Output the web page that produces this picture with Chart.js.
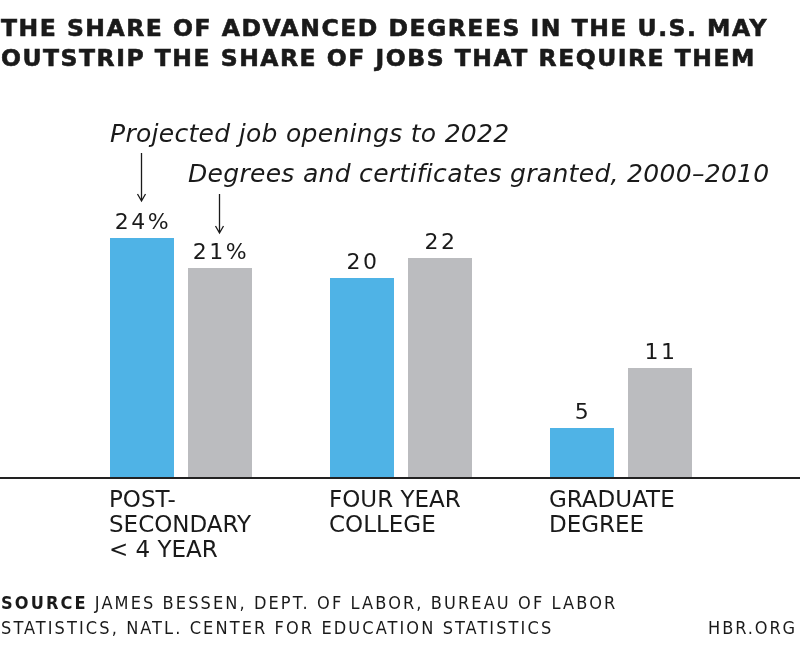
<!DOCTYPE html>
<html>
<head>
<meta charset="utf-8">
<script src="https://cdn.jsdelivr.net/npm/chart.js@4"></script>
<style>
  html, body { margin: 0; padding: 0; background: #fff; }
  #wrap { position: relative; width: 800px; height: 650px; overflow: hidden; }
  #chart { position: absolute; left: 0; top: 0; }
  .title {
    position: absolute; left: 1px; top: 13px; margin: 0;
    font: bold 23.5px "DejaVu Sans", sans-serif; letter-spacing: 1.5px;
    -webkit-text-stroke: 0.6px #1a1a1a;
    line-height: 30px; color: #1a1a1a; white-space: nowrap;
  }
  .source {
    position: absolute; left: 1px; top: 590px; margin: 0;
    font: 18px "DejaVu Sans Condensed", "DejaVu Sans", sans-serif;
    letter-spacing: 2.1px;
    line-height: 25px; color: #1a1a1a; white-space: nowrap;
  }
  .source b { font-weight: bold; }
  .hbr {
    position: absolute; right: 3px; top: 615px;
    font: 18px "DejaVu Sans Condensed", "DejaVu Sans", sans-serif;
    letter-spacing: 1.9px;
    line-height: 25px; color: #1a1a1a;
  }
</style>
</head>
<body>
<div id="wrap">
  <canvas id="chart" width="800" height="650"></canvas>
  <div class="title">THE SHARE OF ADVANCED DEGREES IN THE U.S. MAY<br>OUTSTRIP THE SHARE OF JOBS THAT REQUIRE THEM</div>
  <div class="source"><b>SOURCE</b> JAMES BESSEN, DEPT. OF LABOR, BUREAU OF LABOR<br>STATISTICS, NATL. CENTER FOR EDUCATION STATISTICS</div>
  <div class="hbr">HBR.ORG</div>
</div>
<script>
const categories = [["POST-", "SECONDARY", "< 4 YEAR"], ["FOUR YEAR", "COLLEGE"], ["GRADUATE", "DEGREE"]];
const seriesNames = ["Projected job openings to 2022", "Degrees and certificates granted, 2000\u20132010"];
const jobOpenings = [24, 20, 5];
const degreesGranted = [21, 22, 11];

const BLUE = "#4fb3e6";
const GRAY = "#bbbcbf";
const INK = "#1a1a1a";

// labels, arrows, baseline, category names – all placed from the chart's own scales
const decorations = {
  id: "decorations",
  afterDatasetsDraw(chart) {
    const ctx = chart.ctx;
    const y = chart.scales.y;
    const zeroY = y.getPixelForValue(0);
    const m0 = chart.getDatasetMeta(0), m1 = chart.getDatasetMeta(1);
    ctx.save();

    // baseline across the full width
    ctx.strokeStyle = "#222";
    ctx.lineWidth = 2;
    ctx.beginPath();
    ctx.moveTo(0, zeroY);
    ctx.lineTo(chart.width, zeroY);
    ctx.stroke();

    // value labels
    ctx.fillStyle = INK;
    ctx.font = '22px "DejaVu Sans", sans-serif';
    ctx.letterSpacing = "2.5px";
    ctx.textAlign = "center";
    ctx.textBaseline = "alphabetic";
    [m0, m1].forEach((meta, d) => {
      const vals = d === 0 ? jobOpenings : degreesGranted;
      meta.data.forEach((bar, i) => {
        const txt = vals[i] + (i === 0 ? "%" : "");
        ctx.fillText(txt, bar.x + 1, bar.y - 9);
      });
    });
    ctx.letterSpacing = "0px";

    // category labels, left-aligned to the first bar of each group
    ctx.font = '23px "DejaVu Sans", sans-serif';
    ctx.textAlign = "left";
    m0.data.forEach((bar, i) => {
      const left = bar.x - bar.width / 2;
      categories[i].forEach((line, k) => {
        ctx.fillText(line, left - 1, zeroY + 29 + k * 25);
      });
    });

    // series annotations with arrows
    const b0 = m0.data[0], b1 = m1.data[0];
    ctx.font = 'italic 25px "DejaVu Sans", sans-serif';
    ctx.letterSpacing = "0.3px";
    ctx.fillText(seriesNames[0], b0.x - b0.width / 2, 142);
    ctx.fillText(seriesNames[1], b1.x - b1.width / 2, 182);
    ctx.letterSpacing = "0px";

    const arrow = (ax, y1, y2) => {
      ctx.strokeStyle = INK;
      ctx.lineWidth = 1.3;
      ctx.beginPath();
      ctx.moveTo(ax, y1);
      ctx.lineTo(ax, y2);
      ctx.moveTo(ax - 4, y2 - 7);
      ctx.lineTo(ax, y2);
      ctx.lineTo(ax + 4, y2 - 7);
      ctx.stroke();
    };
    arrow(Math.round(b0.x) - 0.5, 153, 201);
    arrow(Math.round(b1.x) - 0.5, 194, 233);

    ctx.restore();
  }
};

new Chart(document.getElementById("chart"), {
  type: "bar",
  data: {
    labels: categories,
    datasets: [
      { label: seriesNames[0], data: jobOpenings, backgroundColor: BLUE },
      { label: seriesNames[1], data: degreesGranted, backgroundColor: GRAY }
    ]
  },
  options: {
    responsive: false,
    animation: false,
    devicePixelRatio: 1,
    layout: { padding: { left: 71, right: 69, top: 178, bottom: 172 } },
    datasets: { bar: { categoryPercentage: 156 / 220, barPercentage: 64 / 78 } },
    plugins: { legend: { display: false }, tooltip: { enabled: false } },
    scales: {
      x: { display: false },
      y: { display: false, min: 0, max: 30 }
    }
  },
  plugins: [decorations]
});
</script>
</body>
</html>
